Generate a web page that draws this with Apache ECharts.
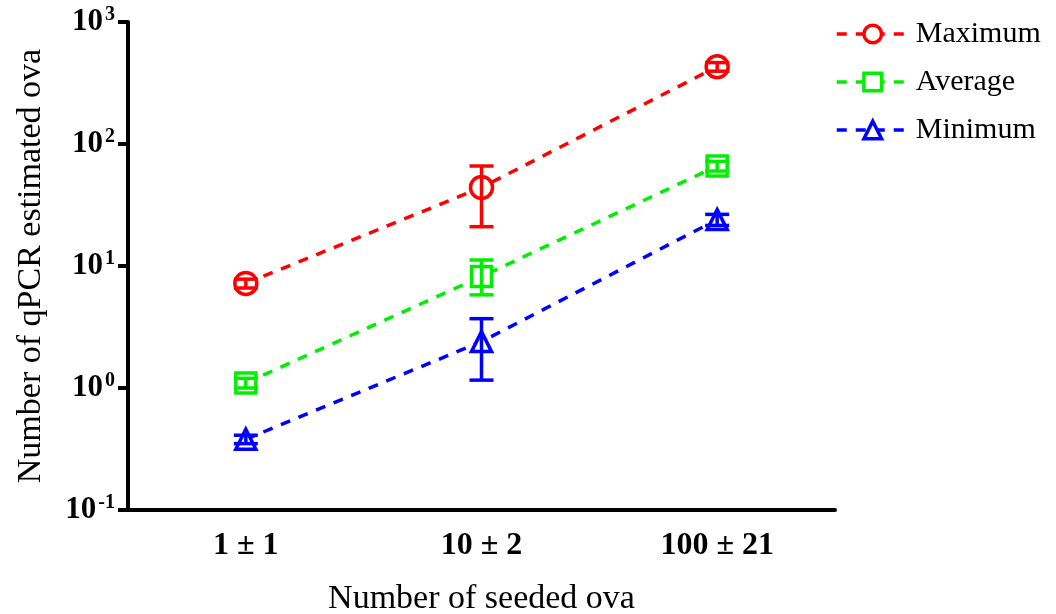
<!DOCTYPE html>
<html><head><meta charset="utf-8">
<script src="https://cdn.jsdelivr.net/npm/echarts@6/dist/echarts.min.js"></script>
<style>html,body{margin:0;padding:0;background:#fff}#c{width:1056px;height:614px}</style>
</head><body><div id="c"></div>
<script>
const categories = ['1 ± 1', '10 ± 2', '100 ± 21'];
const yTickExponents = [-1, 0, 1, 2, 3];
const maximum = [7.2, 44, 430];
const maximumLow = [6.6, 21, 395];
const maximumHigh = [7.8, 66, 465];
const average = [1.1, 8.2, 66];
const averageLow = [1.0, 5.8, 60];
const averageHigh = [1.2, 11.2, 72];
const minimum = [0.38, 2.4, 24];
const minimumLow = [0.35, 1.16, 21.5];
const minimumHigh = [0.41, 3.7, 26.5];

const font = 'Liberation Serif, Times New Roman, serif';
const chart = echarts.init(document.getElementById('c'));

function errSeries(color, low, high) {
  return {
    type: 'custom', silent: true, z: 5,
    data: low.map((l, i) => [i, l, high[i]]),
    renderItem: function (params, api) {
      const lo = api.coord([api.value(0), api.value(1)]);
      const hi = api.coord([api.value(0), api.value(2)]);
      const w = 12;
      const st = { stroke: color, lineWidth: 3.5 };
      return { type: 'group', children: [
        { type: 'line', shape: { x1: hi[0], y1: hi[1], x2: lo[0], y2: lo[1] }, style: st },
        { type: 'line', shape: { x1: hi[0] - w, y1: hi[1], x2: hi[0] + w, y2: hi[1] }, style: st },
        { type: 'line', shape: { x1: lo[0] - w, y1: lo[1], x2: lo[0] + w, y2: lo[1] }, style: st }
      ]};
    }
  };
}
function lineSeries(name, color, symbol, data, size) {
  return {
    name: name, type: 'line', data: data, symbol: symbol, symbolSize: size,
    z: 4,
    lineStyle: { color: color, width: 3.5, type: [10, 9] },
    itemStyle: { color: '#fff', borderColor: color, borderWidth: 3.5 }
  };
}

chart.setOption({
  animation: false,
  backgroundColor: '#fff',
  grid: { left: 128, right: 221, top: 22, bottom: 104, outerBoundsMode: 'none', containLabel: false },
  legend: {
    orient: 'vertical', left: 830, top: 14, itemGap: 18,
    itemWidth: 72, itemHeight: 22,
    lineStyle: { width: 3.5 },
    itemStyle: { borderWidth: 3.5 },
    textStyle: { fontFamily: font, fontSize: 30, lineHeight: 30, color: '#000', padding: [0, 0, 0, 2] },
    data: ['Maximum', 'Average', 'Minimum']
  },
  xAxis: {
    type: 'category', data: categories, boundaryGap: true,
    name: 'Number of seeded ova', nameLocation: 'middle', nameGap: 72,
    nameTextStyle: { fontFamily: font, fontSize: 34, color: '#000' },
    axisLine: { lineStyle: { color: '#000', width: 4 } },
    axisTick: { alignWithLabel: true, length: 10, lineStyle: { color: '#000', width: 4 } },
    axisLabel: { fontFamily: font, fontSize: 32, fontWeight: 'bold', color: '#000', margin: 20 }
  },
  yAxis: {
    type: 'log', logBase: 10, min: 0.1, max: 1000,
    name: 'Number of qPCR estimated ova', nameLocation: 'middle', nameGap: 80,
    nameTextStyle: { fontFamily: font, fontSize: 34, color: '#000' },
    axisLine: { show: true, lineStyle: { color: '#000', width: 4 } },
    axisTick: { show: true, length: 10, lineStyle: { color: '#000', width: 4 } },
    splitLine: { show: false },
    axisLabel: {
      margin: 13,
      formatter: function (v) {
        const e = Math.round(Math.log10(v));
        const idx = yTickExponents.indexOf(e);
        return '{b|10}{s|' + yTickExponents[idx] + '}';
      },
      rich: {
        b: { fontFamily: font, fontSize: 31, fontWeight: 'bold', color: '#000' },
        s: { fontFamily: font, fontSize: 20, fontWeight: 'bold', color: '#000', padding: [0, 0, 14, 2] }
      }
    }
  },
  series: [
    errSeries('#ff0000', maximumLow, maximumHigh),
    errSeries('#00ee00', averageLow, averageHigh),
    errSeries('#0000ff', minimumLow, minimumHigh),
    lineSeries('Maximum', '#ff0000', 'circle', maximum, 22),
    lineSeries('Average', '#00ee00', 'rect', average, 20),
    lineSeries('Minimum', '#0000ff', 'triangle', minimum, 20)
  ]
});
</script></body></html>
